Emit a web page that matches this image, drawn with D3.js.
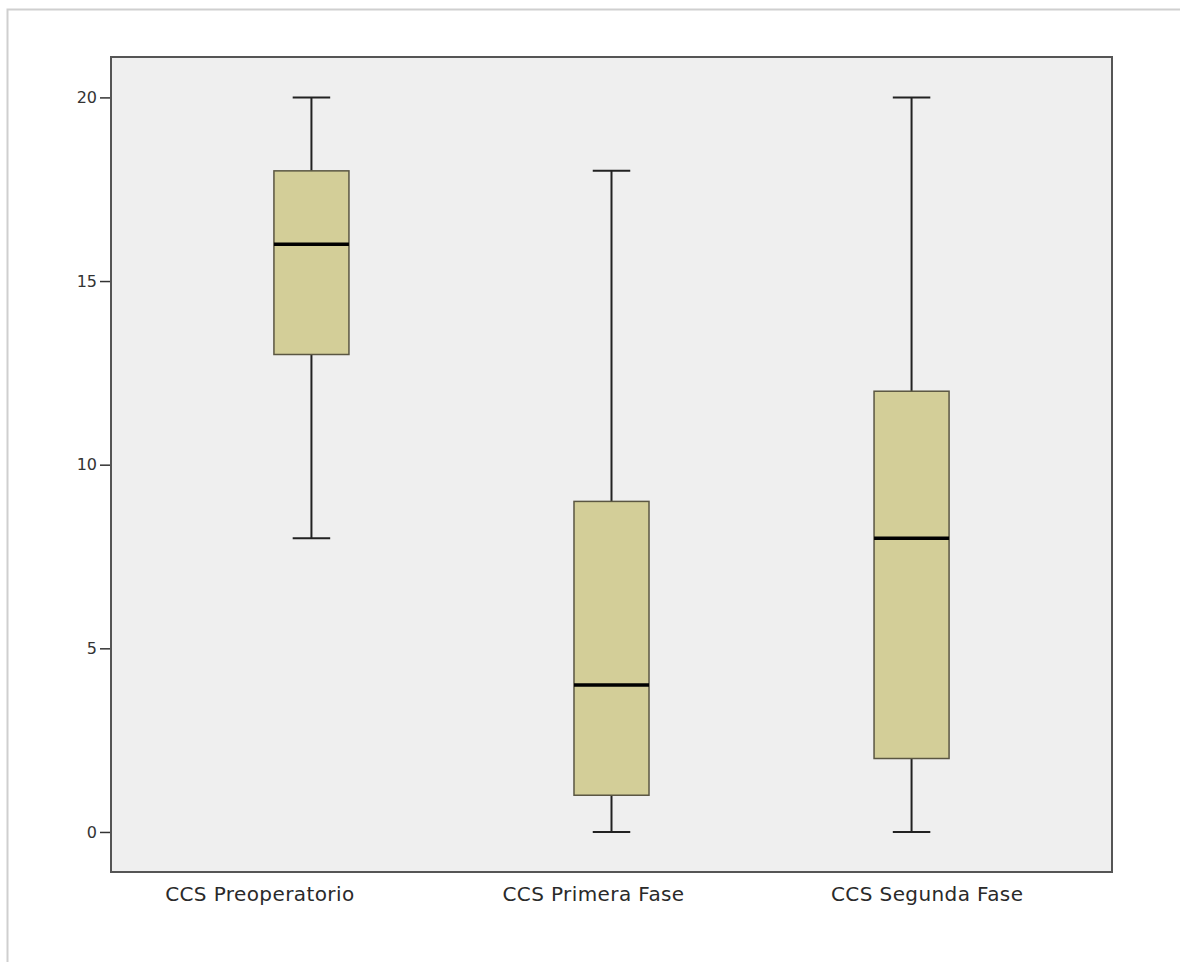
<!DOCTYPE html>
<html>
<head>
<meta charset="utf-8">
<script src="https://cdn.jsdelivr.net/npm/d3@7"></script>
<style>
  body { margin: 0; background: #fff; }
  .tick text { font-family: "DejaVu Sans", sans-serif; fill: #333; }
</style>
</head>
<body>
<div class="my-graph"></div>
<script>
const categories = ['CCS Preoperatorio', 'CCS Primera Fase', 'CCS Segunda Fase']
const whiskerLow = [8, 0, 0]
const q1 = [13, 1, 2]
const median = [16, 4, 8]
const q3 = [18, 9, 12]
const whiskerHigh = [20, 18, 20]
const yTicks = [0, 5, 10, 15, 20]

const dataset = categories.map((c, i) => ({
  name: c, lo: whiskerLow[i], q1: q1[i], med: median[i], q3: q3[i], hi: whiskerHigh[i]
}))

const width = 1180
const height = 962
const plot = { left: 111, right: 1112, top: 57, bottom: 872 }

const svg = d3.select('.my-graph')
  .append('svg')
  .attr('width', width)
  .attr('height', height)

// outer frame (only top/left edges fall inside the picture)
svg.append('rect')
  .attr('x', 7.5).attr('y', 9.5)
  .attr('width', 1300).attr('height', 1200)
  .attr('fill', 'none')
  .attr('stroke', '#cfcfcf')
  .attr('stroke-width', 2)

const yScale = d3.scaleLinear()
  .domain([-1.09, 21.1])
  .range([plot.bottom, plot.top])

const xScale = d3.scalePoint()
  .domain(categories)
  .range([plot.left, plot.right])
  .padding(0.668)

const bandScale = d3.scaleBand()
  .domain(categories)
  .range([plot.left, plot.right])

const boxW = xScale.step() * 0.25
const capW = boxW / 2

svg.append('rect')
  .attr('x', plot.left).attr('y', plot.top)
  .attr('width', plot.right - plot.left)
  .attr('height', plot.bottom - plot.top)
  .attr('fill', '#efefef')

const yAxis = svg.append('g')
  .attr('transform', `translate(${plot.left}, 0)`)
  .call(d3.axisLeft(yScale).tickValues(yTicks).tickSize(11).tickPadding(3))
yAxis.select('.domain').remove()
yAxis.selectAll('.tick line').attr('stroke', '#333').attr('stroke-width', 1.5)
yAxis.selectAll('.tick text').style('font-size', '16px')

const boxes = svg.selectAll('.box')
  .data(dataset)
  .enter().append('g')
  .attr('class', 'box')

// whiskers
boxes.append('line')
  .attr('x1', d => xScale(d.name)).attr('x2', d => xScale(d.name))
  .attr('y1', d => yScale(d.hi)).attr('y2', d => yScale(d.q3))
  .attr('stroke', '#222').attr('stroke-width', 2)
boxes.append('line')
  .attr('x1', d => xScale(d.name)).attr('x2', d => xScale(d.name))
  .attr('y1', d => yScale(d.q1)).attr('y2', d => yScale(d.lo))
  .attr('stroke', '#222').attr('stroke-width', 2)
boxes.append('line')
  .attr('x1', d => xScale(d.name) - capW / 2).attr('x2', d => xScale(d.name) + capW / 2)
  .attr('y1', d => yScale(d.hi)).attr('y2', d => yScale(d.hi))
  .attr('stroke', '#222').attr('stroke-width', 2)
boxes.append('line')
  .attr('x1', d => xScale(d.name) - capW / 2).attr('x2', d => xScale(d.name) + capW / 2)
  .attr('y1', d => yScale(d.lo)).attr('y2', d => yScale(d.lo))
  .attr('stroke', '#222').attr('stroke-width', 2)

// boxes
boxes.append('rect')
  .attr('x', d => xScale(d.name) - boxW / 2)
  .attr('y', d => yScale(d.q3))
  .attr('width', boxW)
  .attr('height', d => yScale(d.q1) - yScale(d.q3))
  .attr('fill', '#d3ce98')
  .attr('stroke', '#5a5642')
  .attr('stroke-width', 1.5)

boxes.append('line')
  .attr('x1', d => xScale(d.name) - boxW / 2).attr('x2', d => xScale(d.name) + boxW / 2)
  .attr('y1', d => yScale(d.med)).attr('y2', d => yScale(d.med))
  .attr('stroke', '#000').attr('stroke-width', 3.5)

// plot frame
svg.append('rect')
  .attr('x', plot.left).attr('y', plot.top)
  .attr('width', plot.right - plot.left)
  .attr('height', plot.bottom - plot.top)
  .attr('fill', 'none')
  .attr('stroke', '#555')
  .attr('stroke-width', 2)

// category labels (SPSS puts them slightly left of the band centre)
svg.selectAll('.cat')
  .data(categories)
  .enter().append('text')
  .attr('class', 'cat')
  .attr('x', d => bandScale(d) + bandScale.bandwidth() / 2 - 18)
  .attr('y', 901)
  .attr('text-anchor', 'middle')
  .style('font-family', '"DejaVu Sans", sans-serif')
  .style('font-size', '20px')
  .style('letter-spacing', '0.4px')
  .attr('fill', '#2a2a2a')
  .text(d => d)
</script>
</body>
</html>
